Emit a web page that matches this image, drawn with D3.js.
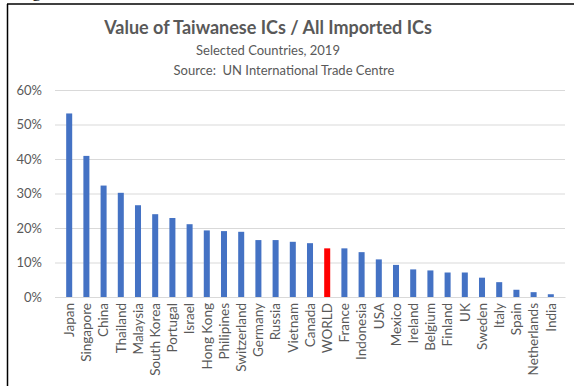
<!DOCTYPE html>
<html><head><meta charset="utf-8">
<script src="https://cdn.jsdelivr.net/npm/d3@7"></script>
<style>body{margin:0;background:#fff}svg{display:block}</style>
</head><body>
<script>
const categories = ["Japan","Singapore","China","Thailand","Malaysia","South Korea","Portugal","Israel","Hong Kong","Philipines","Switzerland","Germany","Russia","Vietnam","Canada","WORLD","France","Indonesia","USA","Mexico","Ireland","Belgium","Finland","UK","Sweden","Italy","Spain","Netherlands","India"];
const values = [53.2,40.9,32.3,30.2,26.6,24.0,22.9,21.1,19.3,19.1,18.9,16.5,16.5,16.0,15.6,14.1,14.1,13.0,10.9,9.3,8.0,7.7,7.1,7.1,5.6,4.3,2.1,1.4,0.8];
const highlight = ["WORLD"];
const yTicks = [0,10,20,30,40,50,60];
const title = "Value of Taiwanese ICs / All Imported ICs";
const subtitle = "Selected Countries, 2019";
const source = "Source:  UN International Trade Centre";

const W=574,H=386;
const svg=d3.select("body").append("svg").attr("width",W).attr("height",H);
const font="Lato, 'Open Sans', sans-serif";
const grey="#595959";

// frame
svg.append("line").attr("x1",7.5).attr("x2",7.5).attr("y1",4).attr("y2",H).attr("stroke","#000").attr("stroke-width",1.5);
svg.append("line").attr("x1",7).attr("x2",W).attr("y1",4).attr("y2",4).attr("stroke","#000").attr("stroke-width",1.5);
svg.append("text").attr("x",32).attr("y",-3).attr("font-family","'Liberation Serif',serif").attr("font-size",18).text("g");

const x=d3.scaleBand().domain(categories).range([55,565]).padding(0.65);
const y=d3.scaleLinear().domain([0,60]).range([297,90]);

const gy=svg.append("g").attr("transform","translate(55,0)")
  .call(d3.axisLeft(y).tickValues(yTicks).tickSize(-510).tickFormat(d=>d+"%"));
gy.select(".domain").remove();
gy.selectAll(".tick line").attr("stroke","#d9d9d9").attr("stroke-width",1);
gy.selectAll(".tick text").attr("x",-13).attr("fill",grey).attr("font-family",font).attr("font-size",13);

svg.append("g").selectAll("rect").data(categories).join("rect")
  .attr("x",d=>x(d)).attr("width",x.bandwidth())
  .attr("y",(d,i)=>y(values[i])).attr("height",(d,i)=>y(0)-y(values[i]))
  .attr("fill",d=>highlight.includes(d)?"#FF0000":"#4472C4");

const gx=svg.append("g").attr("transform","translate(0,297)")
  .call(d3.axisBottom(x).tickSize(0));
gx.select(".domain").attr("stroke","#d9d9d9");
gx.selectAll(".tick text").attr("transform","rotate(-90)").attr("text-anchor","end")
  .attr("x",-6).attr("y",0).attr("dy","0.35em")
  .attr("fill",grey).attr("font-family",font).attr("font-size",13.5);

svg.append("text").attr("x",268).attr("y",34).attr("text-anchor","middle")
  .attr("font-family",font).attr("font-weight","bold").attr("font-size",18).attr("fill",grey).text(title);
svg.append("text").attr("x",268).attr("y",55).attr("text-anchor","middle")
  .attr("font-family",font).attr("font-size",13).attr("fill",grey).text(subtitle);
svg.append("text").attr("x",284).attr("y",75).attr("text-anchor","middle")
  .attr("font-family",font).attr("font-size",13).attr("fill",grey).style("white-space","pre").text(source);
</script>
</body></html>
